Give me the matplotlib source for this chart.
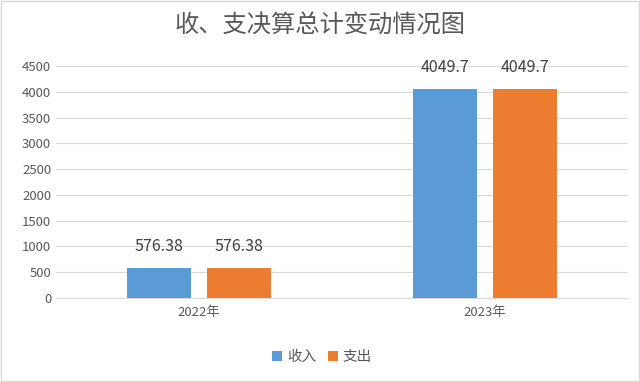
import numpy as np
import matplotlib.pyplot as plt
from matplotlib.patches import Rectangle

plt.rcParams['font.family'] = ['Noto Sans CJK SC', 'DejaVu Sans']

years = ["2022年", "2023年"]
income = [576.38, 4049.7]
expense = [576.38, 4049.7]
income_labels = ["576.38", "4049.7"]
expense_labels = ["576.38", "4049.7"]

blue = "#5B9BD5"
orange = "#ED7D31"
text_gray = "#595959"

fig = plt.figure(figsize=(6.4, 3.82), dpi=100)
ax = fig.add_axes([0.0875, 0.2199, 0.8935, 0.6073])

x = np.arange(len(years))
w = 0.224
b1 = ax.bar(x - 0.14, income, w, color=blue, label="收入", zorder=3)
b2 = ax.bar(x + 0.14, expense, w, color=orange, label="支出", zorder=3)

for bars, labels in [(b1, income_labels), (b2, expense_labels)]:
    for rect, lab in zip(bars, labels):
        ax.text(rect.get_x() + rect.get_width() / 2, rect.get_height() + 430, lab,
                ha="center", va="center", fontsize=11.5, color="#404040")

ax.set_xlim(-0.5, 1.5)
ax.set_ylim(0, 4500)
ax.set_yticks(np.arange(0, 4501, 500))
ax.set_xticks(x)
ax.set_xticklabels(years)
ax.yaxis.grid(True, color="#D9D9D9", linewidth=0.8, zorder=0)
for s in ["top", "right", "left"]:
    ax.spines[s].set_visible(False)
ax.spines["bottom"].set_color("#D9D9D9")
ax.tick_params(axis="both", length=0, labelsize=9.5, colors=text_gray)
ax.tick_params(axis="x", pad=6)

fig.text(0.5, 0.932, "收、支决算总计变动情况图", ha="center", va="center",
         fontsize=17.5, color=text_gray)

h, l = ax.get_legend_handles_labels()
fig.legend(h, l, loc="center", bbox_to_anchor=(0.503, 1 - 357 / 382), ncol=2,
           frameon=False, fontsize=10.5, handlelength=0.7, handleheight=0.7,
           handletextpad=0.3, columnspacing=0.8, labelcolor=text_gray)

fig.patches.append(Rectangle((0.002, 0.003), 0.996, 0.994, transform=fig.transFigure,
                             fill=False, edgecolor="#D9D9D9", linewidth=1))

fig.savefig("out.png", dpi=100)
